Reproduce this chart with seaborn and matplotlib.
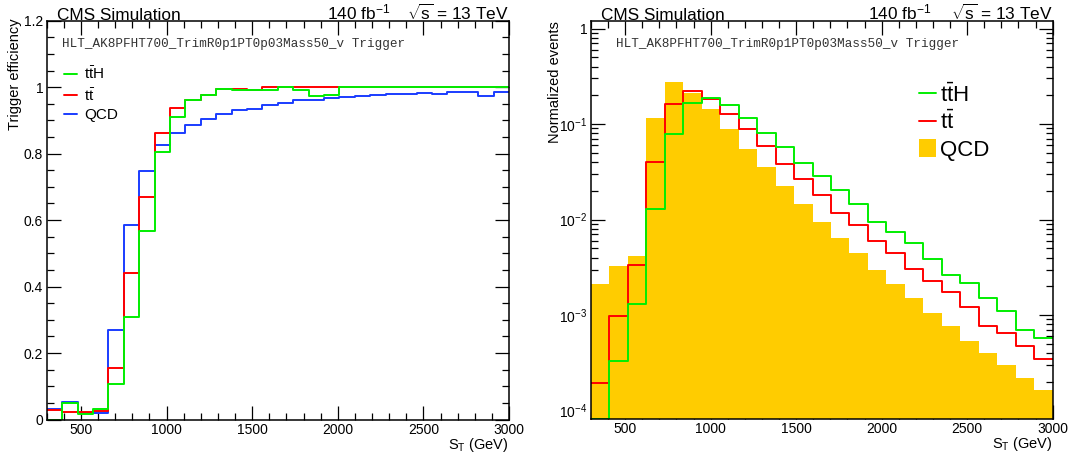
import numpy as np
import pandas as pd
import matplotlib
matplotlib.use('Agg')
import matplotlib.pyplot as plt
import seaborn as sns
from matplotlib.lines import Line2D
from matplotlib.patches import Patch
from matplotlib.ticker import MultipleLocator, FuncFormatter, LogLocator, NullFormatter

# ---------------- data ----------------
eff_edges = np.linspace(300, 3000, 31)   # 30 bins of 90 GeV
eff_tth = [0.0, 0.049, 0.016, 0.032, 0.107, 0.308, 0.567, 0.805, 0.909, 0.962,
           0.975, 0.995, 0.991, 0.990, 0.990, 1.0, 0.990, 0.974, 0.977, 1.0,
           1.0, 1.0, 1.0, 1.0, 1.0, 1.0, 1.0, 1.0, 1.0, 1.0]
eff_tt = [0.029, 0.022, 0.023, 0.027, 0.154, 0.440, 0.671, 0.862, 0.937, 0.961,
          0.977, 0.995, 0.993, 0.990, 1.0, 1.0, 1.0, 1.0, 1.0, 1.0,
          1.0, 1.0, 1.0, 1.0, 1.0, 1.0, 1.0, 1.0, 1.0, 1.0]
eff_qcd = [0.031, 0.054, 0.021, 0.020, 0.268, 0.584, 0.747, 0.826, 0.861, 0.885,
           0.904, 0.920, 0.930, 0.934, 0.946, 0.953, 0.960, 0.960, 0.967, 0.970,
           0.974, 0.976, 0.978, 0.979, 0.983, 0.980, 0.984, 0.984, 0.973, 0.984]

norm_edges = np.linspace(300, 3000, 26)  # 25 bins of 108 GeV
norm_qcd = [2.14e-3, 3.24e-3, 4.13e-3, 0.117, 0.278, 0.211, 0.145, 0.089, 0.055, 0.0354,
            0.0225, 0.0145, 9.5e-3, 6.4e-3, 4.45e-3, 3.0e-3, 2.1e-3, 1.5e-3, 1.06e-3, 7.6e-4,
            5.4e-4, 3.97e-4, 2.97e-4, 2.18e-4, 1.64e-4]
norm_tt = [1.93e-4, 9.8e-4, 3.35e-3, 0.0403, 0.164, 0.221, 0.181, 0.126, 0.088, 0.0595,
           0.038, 0.0267, 0.018, 0.0116, 8.85e-3, 5.9e-3, 4.45e-3, 3.03e-3, 2.29e-3, 1.76e-3,
           1.22e-3, 7.65e-4, 6.5e-4, 4.78e-4, 3.48e-4]
norm_tth = [8.2e-5, 3.32e-4, 1.32e-3, 0.0128, 0.079, 0.168, 0.188, 0.157, 0.117, 0.081,
            0.058, 0.039, 0.0287, 0.0202, 0.0144, 9.45e-3, 7.4e-3, 5.67e-3, 3.84e-3, 2.65e-3,
            2.16e-3, 1.5e-3, 1.1e-3, 7.06e-4, 5.75e-4]

labels = [r'$\mathregular{t\bar{t}H}$', r'$\mathregular{t\bar{t}}$', 'QCD']
trigger_text = 'HLT_AK8PFHT700_TrimR0p1PT0p03Mass50_v Trigger'

GREEN, RED, BLUE, YELLOW = '#00ee00', '#ff0000', '#1a3cff', '#ffcc00'

# ---------------- style ----------------
sns.set_theme(style='ticks')
plt.rcParams['font.family'] = ['Liberation Sans', 'DejaVu Sans']
plt.rcParams['mathtext.fontset'] = 'custom'
plt.rcParams['mathtext.rm'] = 'Liberation Sans'
plt.rcParams['mathtext.it'] = 'Liberation Sans:italic'
plt.rcParams['mathtext.bf'] = 'Liberation Sans:bold'
plt.rcParams['mathtext.default'] = 'regular'
plt.rcParams['text.color'] = 'black'
plt.rcParams['axes.labelcolor'] = 'black'

W, H = 1073, 453
fig = plt.figure(figsize=(W / 100, H / 100), dpi=100, facecolor='white')


def box(x0, y0, x1, y1):
    return [x0 / W, 1 - y1 / H, (x1 - x0) / W, (y1 - y0) / H]


ax1 = fig.add_axes(box(46.7, 20.7, 509, 419.5))
ax2 = fig.add_axes(box(591, 21, 1052.6, 418.8))


def hist(ax, edges, vals, **kw):
    centers = (edges[:-1] + edges[1:]) / 2
    df = pd.DataFrame({'st': centers, 'w': np.asarray(vals, dtype=float)})
    sns.histplot(data=df, x='st', weights='w', bins=list(edges), ax=ax, **kw)


# ---------------- left: efficiency ----------------
for vals, col in [(eff_qcd, BLUE), (eff_tt, RED), (eff_tth, GREEN)]:
    hist(ax1, eff_edges, vals, element='step', fill=False, color=col, linewidth=1.4)

# ---------------- right: normalized ----------------
ax2.set_yscale('log')
hist(ax2, norm_edges, norm_qcd, element='bars', fill=True, color=YELLOW, alpha=1, linewidth=0)
for vals, col in [(norm_tt, RED), (norm_tth, GREEN)]:
    hist(ax2, norm_edges, vals, element='step', fill=False, color=col, linewidth=1.4)

# ---------------- axes styling ----------------
for ax in (ax1, ax2):
    ax.set_xlim(300, 3000)
    ax.xaxis.set_major_locator(MultipleLocator(500))
    ax.xaxis.set_minor_locator(MultipleLocator(100))
    ax.tick_params(which='both', direction='in', top=True, right=True,
                   color='black', width=0.9, labelsize=10, labelcolor='black')
    ax.tick_params(which='major', length=10)
    ax.tick_params(which='minor', length=5)
    ax.tick_params(axis='x', which='both', pad=2.5)
    for s in ax.spines.values():
        s.set_linewidth(1.1)
        s.set_color('black')
    ax.set_xlabel(r'S$_{T}$ (GeV)', fontsize=10.5, loc='right')
    ax.xaxis.set_label_coords(1.0, -0.041)

ax1.set_ylim(0, 1.2)
ax1.yaxis.set_major_locator(MultipleLocator(0.2))
ax1.yaxis.set_minor_locator(MultipleLocator(0.05))
ax1.yaxis.set_major_formatter(FuncFormatter(lambda v, p: f'{v:g}'))
ax1.tick_params(axis='y', which='both', pad=2.5)
ax1.set_ylabel('Trigger efficiency', fontsize=10.5, loc='top')
ax1.yaxis.set_label_coords(-0.054, 1.007)

ax2.set_ylim(8.2e-5, 1.2)
ax2.yaxis.set_major_locator(LogLocator(base=10))
ax2.yaxis.set_minor_locator(LogLocator(base=10, subs=np.arange(2, 10)))
ax2.yaxis.set_minor_formatter(NullFormatter())
ax2.yaxis.set_major_formatter(FuncFormatter(
    lambda v, p: '1' if abs(v - 1) < 1e-9 else r'$10^{%d}$' % int(round(np.log10(v)))))
ax2.tick_params(axis='y', which='both', pad=2.5)
ax2.set_ylabel('Normalized events', fontsize=10.5, loc='top')
ax2.yaxis.set_label_coords(-0.063, 1.0)

# ---------------- legends ----------------
h1 = [Line2D([], [], color=c, lw=1.4) for c in (GREEN, RED, BLUE)]
ax1.legend(h1, labels, loc='upper left', bbox_to_anchor=(0.037, 0.888), frameon=False,
           fontsize=11, handlelength=0.85, handletextpad=0.5, labelspacing=0.3,
           borderaxespad=0, borderpad=0)

h2 = [Line2D([], [], color=GREEN, lw=1.4), Line2D([], [], color=RED, lw=1.4),
      Patch(facecolor=YELLOW, edgecolor='none')]
ax2.legend(h2, labels, loc='upper left', bbox_to_anchor=(0.7106, 0.843), frameon=False,
           fontsize=16, handlelength=0.75, handleheight=0.9, handletextpad=0.18,
           labelspacing=0.2, borderaxespad=0, borderpad=0)

# ---------------- texts ----------------
for xl, x140, xr in [(56.8, 390, 508.5), (601, 931, 1052.6)]:
    fig.text(xl / W, 1 - 19.5 / H, 'CMS Simulation', fontsize=12.4, ha='left', va='baseline')
    fig.text(x140 / W, 1 - 19.5 / H, r'140 fb$^{-1}$', fontsize=12.4, ha='right', va='baseline')
    fig.text(xr / W, 1 - 19.5 / H, r'$\sqrt{s}$ = 13 TeV', fontsize=12.4, ha='right', va='baseline')

ax1.text(0.033, 0.9416, trigger_text, transform=ax1.transAxes, family='Liberation Mono',
         fontsize=9.07, color='#333333', ha='left', va='center')
ax2.text(0.0552, 0.943, trigger_text, transform=ax2.transAxes, family='Liberation Mono',
         fontsize=9.07, color='#333333', ha='left', va='center')

fig.savefig('out.png', dpi=100, facecolor='white')
